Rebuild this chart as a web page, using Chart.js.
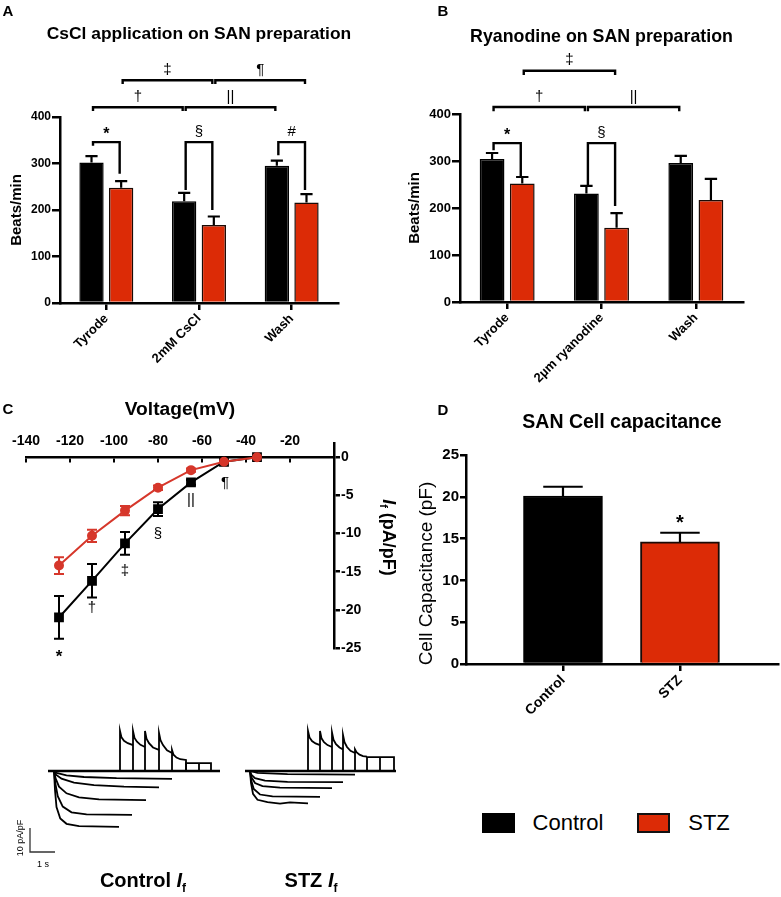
<!DOCTYPE html>
<html><head><meta charset="utf-8">
<script src="https://cdn.jsdelivr.net/npm/chart.js@4.4.1/dist/chart.umd.min.js"></script>
<style>
html,body{margin:0;padding:0;background:#fff;}
body{width:781px;height:897px;position:relative;overflow:hidden;font-family:'Liberation Sans',Arial,Helvetica,sans-serif;color:#000;}
canvas{position:absolute;}
.c{position:absolute;white-space:nowrap;transform:translate(-50%,-50%);line-height:1;}
.b{font-weight:bold;}
.sw{position:absolute;box-sizing:border-box;}
</style></head><body>
<canvas id="cA" width="390" height="390" style="left:0;top:0"></canvas>
<canvas id="cB" width="391" height="390" style="left:390px;top:0"></canvas>
<canvas id="cD" width="391" height="330" style="left:390px;top:390px"></canvas>
<canvas id="cC" width="405" height="290" style="left:0;top:390px"></canvas>
<canvas id="cT1" width="240" height="180" style="left:0;top:690px"></canvas>
<canvas id="cT2" width="165" height="180" style="left:240px;top:690px"></canvas>

<div class="c b" style="left:8px;top:10px;font-size:15px">A</div>
<div class="c b" style="left:443px;top:10px;font-size:15px">B</div>
<div class="c b" style="left:8px;top:408px;font-size:15px">C</div>
<div class="c b" style="left:443px;top:409px;font-size:15px">D</div>

<div class="sw" style="left:482px;top:813px;width:33px;height:20px;background:#000"></div>
<div class="c" style="left:568px;top:823px;font-size:22px">Control</div>
<div class="sw" style="left:637px;top:813px;width:33px;height:20px;background:#dc2b06;border:2px solid #111"></div>
<div class="c" style="left:709px;top:823px;font-size:22px">STZ</div>

<div class="c b" style="left:143px;top:882px;font-size:20px">Control <i>I</i><sub style="font-size:12px">f</sub></div>
<div class="c b" style="left:311px;top:882px;font-size:20px">STZ <i>I</i><sub style="font-size:12px">f</sub></div>
<div class="c" style="left:20px;top:838px;font-size:9px;transform:translate(-50%,-50%) rotate(-90deg)">10 pA/pF</div>
<div class="c" style="left:43px;top:864px;font-size:9px">1 s</div>

<script>
const FONT = "'Liberation Sans', Arial, Helvetica, sans-serif";
Chart.defaults.font.family = FONT;
Chart.defaults.color = '#000';
const RED = '#dc2b06';
const RED_C = '#d6372b';

// ---------- Panel A data ----------
const catA = ['Tyrode', '2mM CsCl', 'Wash'];
const ctrlA = [302, 219, 295];
const ctrlA_sem = [14, 18, 11];
const stzA = [248, 168, 216];
const stzA_sem = [14, 18, 18];

// ---------- Panel B data ----------
const catB = ['Tyrode', '2\u00b5m ryanodine', 'Wash'];
const ctrlB = [304, 231, 296];
const ctrlB_sem = [13, 16, 15];
const stzB = [252, 158, 217];
const stzB_sem = [14, 31, 45];

// ---------- Panel C data ----------
const voltC = [-125, -110, -95, -80, -65, -50, -35];
const ctrlC = [-21.0, -16.2, -11.3, -6.8, -3.3, -0.6, 0];
const ctrlC_sem = [2.8, 2.2, 1.5, 0.9, 0.3, 0.2, 0.1];
const stzC = [-14.2, -10.3, -7.0, -4.0, -1.7, -0.6, 0];
const stzC_sem = [1.1, 0.8, 0.6, 0.3, 0.2, 0.1, 0.1];
const sigC_x = [-125, -110, -95, -80, -65, -49.5];
const sigC_y = [-26.2, -19.8, -14.9, -10.1, -5.6, -3.4];
const sigC_t = ['*', '\u2020', '\u2021', '\u00a7', '||', '\u00b6'];

// ---------- Panel D data ----------
const catD = ['Control', 'STZ'];
const valD = [20.1, 14.6];
const semD = [1.1, 1.1];

// ---------- significance brackets (data units) ----------
const bracketsA = [
  {t:'\u2021', a:[1,0], b:[1,1], y:479, ya:471, yb:471},
  {t:'\u00b6', a:[1,1], b:[1,2], y:479, ya:471, yb:471},
  {t:'\u2020', a:[0,0], b:[0,1], y:421, ya:413, yb:413},
  {t:'||', a:[0,1], b:[0,2], y:421, ya:413, yb:413},
  {t:'*', a:[0,0], b:[1,0], y:346, ya:338, yb:278},
  {t:'\u00a7', a:[0,1], b:[1,1], y:346, ya:243, yb:200},
  {t:'#', a:[0,2], b:[1,2], y:346, ya:318, yb:243}
];
const bracketsB = [
  {t:'\u2021', a:[1,0], b:[1,1], y:492, ya:483, yb:483},
  {t:'\u2020', a:[0,0], b:[0,1], y:415, ya:406, yb:406},
  {t:'||', a:[0,1], b:[0,2], y:415, ya:406, yb:406},
  {t:'*', a:[0,0], b:[1,0], y:338, ya:323, yb:266},
  {t:'\u00a7', a:[0,1], b:[1,1], y:338, ya:249, yb:204}
];

// ---------- current traces (time s, current pA/pF) ----------
const ctrlBaseline = [[-0.24,0],[6.64,0]];
const ctrlSweep1 = [[0,0],[0.1,-0.8],[0.5,-1.8],[1.2,-2.5],[2.5,-3.0],[4.72,-3.3]];
const ctrlSweep2 = [[0,0],[0.08,-1.5],[0.3,-3.2],[0.8,-4.8],[1.6,-5.9],[2.8,-6.5],[4.2,-6.8]];
const ctrlSweep3 = [[0,0],[0.06,-3],[0.2,-6.5],[0.5,-9.3],[1.0,-11],[1.8,-11.8],[3.68,-12.1]];
const ctrlSweep4 = [[0,0],[0.05,-5],[0.15,-10.5],[0.35,-14.8],[0.7,-17.2],[1.3,-18.1],[3.12,-18.3]];
const ctrlSweep5 = [[0,0],[0.04,-8],[0.1,-15],[0.25,-19.8],[0.5,-22],[1.0,-23],[2.6,-23.3]];
const ctrlTail5 = [[2.64,0],[2.64,16.7],[2.7,14],[2.8,12.6],[2.95,11.6],[3.16,10.8]];
const ctrlTail4 = [[3.16,0],[3.16,16.7],[3.22,13.8],[3.32,12.2],[3.46,10.9],[3.64,10]];
const ctrlTail3 = [[3.64,0],[3.64,16.7],[3.7,13.5],[3.8,11.6],[3.96,9.8],[4.2,8.8]];
const ctrlTail2 = [[4.2,0],[4.2,15.8],[4.26,12.8],[4.36,10.8],[4.52,8.6],[4.72,7.5]];
const ctrlTail1 = [[4.72,0],[4.72,8.8],[4.78,6.8],[4.9,5.6],[5.05,4.9],[5.28,4.6],[5.28,0]];
const ctrlSteps = [[5.28,0],[5.28,3.3],[5.8,3.3],[5.8,0],[5.8,3.3],[6.28,3.3],[6.28,0]];
const scaleBar = [[-0.96,-23.75],[-0.96,-33.75],[0.04,-33.75]];

const stzBaseline = [[-0.2,0],[5.84,0]];
const stzSweep1 = [[0,0],[0.3,-0.8],[1.5,-1.3],[4.2,-1.5]];
const stzSweep2 = [[0,0],[0.05,-1.5],[0.2,-3],[0.6,-4],[1.5,-4.5],[3.72,-4.6]];
const stzSweep3 = [[0,0],[0.05,-2.5],[0.2,-5],[0.5,-6.3],[1.2,-6.9],[3.28,-7.1]];
const stzSweep4 = [[0,0],[0.05,-4],[0.15,-7.5],[0.4,-9.8],[0.9,-10.6],[2.8,-10.8]];
const stzSweep5 = [[0,0],[0.04,-5],[0.12,-9.5],[0.3,-12],[0.7,-13],[1.2,-13.6],[1.6,-13.1],[2.32,-13.5]];
const stzTail5 = [[2.32,0],[2.32,16.7],[2.38,14],[2.48,12.5],[2.62,11.5],[2.8,10.8]];
const stzTail4 = [[2.8,0],[2.8,16.7],[2.86,13.6],[2.96,12],[3.1,10.8],[3.28,10]];
const stzTail3 = [[3.28,0],[3.28,16],[3.34,13],[3.44,11.2],[3.58,9.8],[3.72,9]];
const stzTail2 = [[3.72,0],[3.72,15],[3.78,12],[3.88,10],[4.02,8.4],[4.2,7.5]];
const stzTail1 = [[4.2,0],[4.2,9],[4.26,7.8],[4.38,6.8],[4.52,6.2],[4.68,6]];
const stzSteps = [[4.68,0],[4.68,5.8],[5.2,5.8],[5.2,0],[5.2,5.8],[5.76,5.8],[5.76,0]];

// ---------- plugins ----------
const errPlugin = {
  id: 'errbars',
  beforeDatasetsDraw(chart, args, o) {
    if (!o.sems) return;
    const ys = chart.scales.y, ctx = chart.ctx;
    ctx.save();
    ctx.lineWidth = o.width || 2;
    o.sems.forEach((sem, di) => {
      if (!sem) return;
      const meta = chart.getDatasetMeta(di);
      ctx.strokeStyle = (o.colors && o.colors[di]) || '#000';
      meta.data.forEach((el, i) => {
        const raw = chart.data.datasets[di].data[i];
        const v = (typeof raw === 'object') ? raw.y : raw;
        const top = ys.getPixelForValue(v + sem[i]);
        const bot = o.both ? ys.getPixelForValue(v - sem[i]) : el.y;
        const hw = o.cap ? o.cap : el.width / 4;
        ctx.beginPath();
        ctx.moveTo(el.x, bot); ctx.lineTo(el.x, top);
        ctx.moveTo(el.x - hw, top); ctx.lineTo(el.x + hw, top);
        if (o.both) { ctx.moveTo(el.x - hw, bot); ctx.lineTo(el.x + hw, bot); }
        ctx.stroke();
      });
    });
    ctx.restore();
  }
};
const bracketPlugin = {
  id: 'brackets',
  afterDatasetsDraw(chart, args, o) {
    if (!o.items) return;
    const ctx = chart.ctx, ys = chart.scales.y;
    ctx.save();
    ctx.strokeStyle = '#000'; ctx.lineWidth = 2.4; ctx.lineJoin = 'miter';
    ctx.fillStyle = '#000'; ctx.textAlign = 'center'; ctx.textBaseline = 'bottom';
    o.items.forEach(b => {
      const ea = chart.getDatasetMeta(b.a[0]).data[b.a[1]];
      const eb = chart.getDatasetMeta(b.b[0]).data[b.b[1]];
      const x1 = ea.x + 1.5, x2 = eb.x - 1.5;
      const y = ys.getPixelForValue(b.y);
      ctx.beginPath();
      ctx.moveTo(x1, ys.getPixelForValue(b.ya));
      ctx.lineTo(x1, y); ctx.lineTo(x2, y);
      ctx.lineTo(x2, ys.getPixelForValue(b.yb));
      ctx.stroke();
      ctx.font = (b.t === '*' ? 'bold 16px ' : '15px ') + FONT;
      ctx.fillText(b.t, (x1 + x2) / 2, y - (b.t === '*' ? 0 : 3));
    });
    ctx.restore();
  }
};
const notesPlugin = {
  id: 'notes',
  afterDatasetsDraw(chart, args, o) {
    if (!o.x) return;
    const ctx = chart.ctx, xs = chart.scales.x, ys = chart.scales.y;
    ctx.save();
    ctx.fillStyle = '#000'; ctx.textAlign = 'center'; ctx.textBaseline = 'middle';
    o.x.forEach((xv, i) => {
      ctx.font = (o.t[i] === '*' ? (o.starFont || 'bold 17px ') : (o.font || '15px ')) + FONT;
      ctx.fillText(o.t[i], xs.getPixelForValue(xv), ys.getPixelForValue(o.y[i]));
    });
    ctx.restore();
  }
};
// rotated axis title made of styled pieces: [text, font, baseline shift]
const vTitle = {
  id: 'vTitle',
  afterDraw(chart, args, o) {
    if (!o.parts) return;
    const ctx = chart.ctx, ca = chart.chartArea;
    const cx = o.x, cy = (ca.top + ca.bottom) / 2 + (o.dy || 0);
    ctx.save(); ctx.translate(cx, cy); ctx.rotate(o.angle);
    ctx.fillStyle = '#000'; ctx.textBaseline = 'middle'; ctx.textAlign = 'left';
    const widths = o.parts.map(p => { ctx.font = p[1] + FONT; return ctx.measureText(p[0]).width; });
    let x = -widths.reduce((a, b) => a + b, 0) / 2;
    o.parts.forEach((p, i) => { ctx.font = p[1] + FONT; ctx.fillText(p[0], x, p[2] || 0); x += widths[i]; });
    ctx.restore();
  }
};
// chart title centred over the plot area without width compression
const wideTitle = {
  id: 'wideTitle',
  afterDraw(chart, args, o) {
    if (!o.text) return;
    const ctx = chart.ctx, ca = chart.chartArea;
    ctx.save();
    ctx.fillStyle = '#000'; ctx.textAlign = 'center'; ctx.textBaseline = 'middle';
    ctx.font = o.font + FONT;
    ctx.fillText(o.text, (ca.left + ca.right) / 2, o.y);
    ctx.restore();
  }
};

const axisGrid = (tl) => ({display: true, drawOnChartArea: false, drawTicks: true, tickLength: tl, color: '#000', lineWidth: 2.5, offset: false});
const axisBorder = {display: true, color: '#000', width: 2.5};

function barPanel(id, cats, c, cs, s, ss, title, tFont, titleY, padTop, yW, xH, padR, yTitlePad, yTickSize, brackets) {
  new Chart(document.getElementById(id), {
    type: 'bar',
    data: {labels: cats, datasets: [
      {label: 'Control', data: c, backgroundColor: '#000', borderColor: '#000', borderWidth: 1.5,
       categoryPercentage: 0.64, barPercentage: 0.82},
      {label: 'STZ', data: s, backgroundColor: RED, borderColor: '#1a0a05', borderWidth: 1.5,
       categoryPercentage: 0.64, barPercentage: 0.82}
    ]},
    plugins: [errPlugin, bracketPlugin, wideTitle],
    options: {
      responsive: false, animation: false, events: [],
      layout: {padding: {left: 0, right: padR, top: padTop, bottom: 0}},
      plugins: {
        legend: {display: false}, tooltip: {enabled: false},
        wideTitle: {text: title, font: tFont, y: titleY},
        errbars: {sems: [cs, ss], width: 2.2},
        brackets: {items: brackets}
      },
      scales: {
        x: {grid: axisGrid(7), border: axisBorder,
            ticks: {font: {size: 13, weight: 'bold'}, color: '#000', minRotation: 45, maxRotation: 45, padding: 1},
            afterFit(sc) { sc.height = xH; }},
        y: {min: 0, max: 400, grid: axisGrid(8), border: axisBorder,
            ticks: {stepSize: 100, font: {size: yTickSize, weight: 'bold'}, color: '#000', padding: 1},
            title: {display: true, text: 'Beats/min', font: {size: 15, weight: 'bold'}, color: '#000',
                    padding: {top: yTitlePad, bottom: 0}},
            afterFit(sc) { sc.width = yW; }}
      }
    }
  });
}

barPanel('cA', catA, ctrlA, ctrlA_sem, stzA, stzA_sem, 'CsCl application on SAN preparation', 'bold 17.4px ',
         34, 117, 60, 87, 52, 7.7, 12, bracketsA);
barPanel('cB', catB, ctrlB, ctrlB_sem, stzB, stzB_sem, 'Ryanodine on SAN preparation', 'bold 17.8px ',
         37, 114, 70, 88, 38, 16, 13, bracketsB);

// ---------- Panel C ----------
new Chart(document.getElementById('cC'), {
  type: 'scatter',
  data: {datasets: [
    {label: 'Control', data: voltC.map((v, i) => ({x: v, y: ctrlC[i]})), showLine: true,
     borderColor: '#000', backgroundColor: '#000', borderWidth: 2, pointStyle: 'rect', pointRadius: 5.5, order: 1},
    {label: 'STZ', data: voltC.map((v, i) => ({x: v, y: stzC[i]})), showLine: true,
     borderColor: RED_C, backgroundColor: RED_C, borderWidth: 2, pointStyle: 'circle', pointRadius: 4, order: 0}
  ]},
  plugins: [errPlugin, notesPlugin, vTitle],
  options: {
    responsive: false, animation: false, events: [],
    layout: {padding: {left: 26, right: 0, top: 0, bottom: 32}},
    plugins: {
      legend: {display: false}, tooltip: {enabled: false},
      title: {display: true, text: 'Voltage(mV)', fullSize: false, color: '#000',
              font: {size: 19.2, weight: 'bold'}, padding: {top: 8.5, bottom: 21.5}},
      errbars: {sems: [ctrlC_sem, stzC_sem], both: true, cap: 5, width: 2, colors: ['#000', RED_C]},
      notes: {x: sigC_x, y: sigC_y, t: sigC_t, font: '15px ', starFont: 'bold 17px '},
      vTitle: {x: 388, dy: -8, angle: Math.PI / 2,
               parts: [['I', 'italic bold 18px '], ['f', 'bold 11px ', 5], [' (pA/pF)', 'bold 18px ']]}
    },
    scales: {
      x: {type: 'linear', position: {y: 0}, min: -140, max: 0,
          grid: {display: true, drawOnChartArea: false, tickLength: 4, color: '#000', lineWidth: 2},
          border: axisBorder,
          ticks: {stepSize: 20, autoSkip: false, maxRotation: 0, padding: -28.4, font: {size: 14, weight: 'bold'}, color: '#000',
                  callback: v => (v === 0 ? '' : v)}},
      y: {position: 'right', min: -25, max: 1.85,
          grid: {display: true, drawOnChartArea: false, tickLength: 6, color: '#000', lineWidth: 2.5},
          border: axisBorder,
          ticks: {stepSize: 5, includeBounds: false, font: {size: 14, weight: 'bold'}, color: '#000', padding: 1},
          afterFit(sc) { sc.width = 71; }}
    }
  }
});

// ---------- Panel D ----------
new Chart(document.getElementById('cD'), {
  type: 'bar',
  data: {datasets: [
    {label: 'Control', data: [{x: 0, y: valD[0]}], backgroundColor: '#000', borderColor: '#000', borderWidth: 1.5},
    {label: 'STZ', data: [{x: 1, y: valD[1]}], backgroundColor: RED, borderColor: '#1a0a05', borderWidth: 2}
  ]},
  plugins: [errPlugin, notesPlugin, vTitle],
  options: {
    responsive: false, animation: false, events: [],
    grouped: false, barThickness: 79,
    layout: {padding: {left: 0, right: 3, top: 0, bottom: 0}},
    plugins: {
      legend: {display: false}, tooltip: {enabled: false},
      title: {display: true, text: 'SAN Cell capacitance', fullSize: false, color: '#000',
              font: {size: 19.5, weight: 'bold'}, padding: {top: 21.3, bottom: 20.3}},
      errbars: {sems: [[semD[0]], [semD[1]]], width: 2.2},
      notes: {x: [1], y: [16.75], t: ['*'], starFont: 'bold 20px '},
      vTitle: {x: 37, dy: 14, angle: -Math.PI / 2, parts: [['Cell Capacitance (pF)', '19px ']]}
    },
    scales: {
      x: {type: 'linear', offset: false, min: -0.829, max: 1.838,
          grid: axisGrid(7), border: axisBorder,
          afterBuildTicks(sc) { sc.ticks = catD.map((c, i) => ({value: i})); },
          ticks: {font: {size: 14, weight: 'bold'}, color: '#000', minRotation: 45, maxRotation: 45, padding: 1,
                  callback: v => catD[v]},
          afterFit(sc) { sc.height = 56; }},
      y: {min: 0, max: 25, grid: axisGrid(6), border: axisBorder,
          ticks: {stepSize: 5, font: {size: 15, weight: 'bold'}, color: '#000', padding: 1},
          afterFit(sc) { sc.width = 76; }}
    }
  }
});

// ---------- current traces ----------
function traceChart(id, sets, xr, yr) {
  new Chart(document.getElementById(id), {
    type: 'scatter',
    data: {datasets: sets.map(s => ({
      data: s.d.map(p => ({x: p[0], y: p[1]})), showLine: true, borderColor: s.c || '#000',
      borderWidth: s.w || 1.8, pointRadius: 0, tension: 0, fill: false}))},
    options: {
      responsive: false, animation: false, events: [],
      layout: {padding: 0},
      plugins: {legend: {display: false}, tooltip: {enabled: false}},
      scales: {x: {type: 'linear', display: false, min: xr[0], max: xr[1]},
               y: {display: false, min: yr[0], max: yr[1]}}
    }
  });
}
traceChart('cT1', [
  {d: ctrlBaseline, w: 2.6}, {d: ctrlSweep1}, {d: ctrlSweep2}, {d: ctrlSweep3}, {d: ctrlSweep4}, {d: ctrlSweep5},
  {d: ctrlTail5}, {d: ctrlTail4}, {d: ctrlTail3}, {d: ctrlTail2}, {d: ctrlTail1}, {d: ctrlSteps},
  {d: scaleBar, w: 1.3, c: '#333'}
], [-2.16, 7.44], [-41.25, 33.75]);
traceChart('cT2', [
  {d: stzBaseline, w: 2.6}, {d: stzSweep1}, {d: stzSweep2}, {d: stzSweep3}, {d: stzSweep4}, {d: stzSweep5},
  {d: stzTail5}, {d: stzTail4}, {d: stzTail3}, {d: stzTail2}, {d: stzTail1}, {d: stzSteps}
], [-0.4, 6.2], [-41.25, 33.75]);
</script>
</body></html>
